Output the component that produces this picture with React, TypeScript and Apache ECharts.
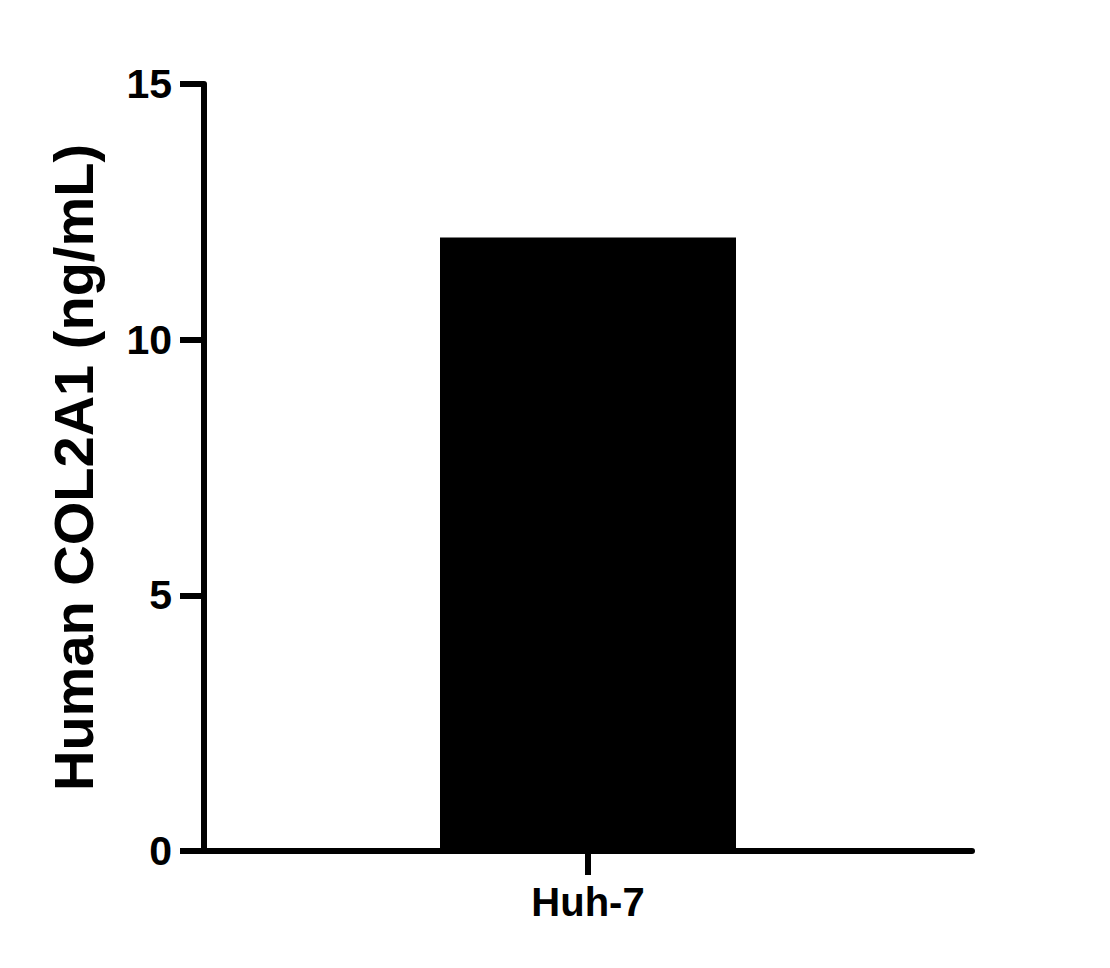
import * as echarts from 'echarts';
import { useEffect, useRef } from 'react';

const categories = ['Huh-7'];
const values = [12];
const yTicks = [0, 5, 10, 15];
const yTitle = 'Human COL2A1 (ng/mL)';

const FONT = 'Liberation Sans, Arial, Helvetica, sans-serif';

// empty slots either side so the single category sits on a point with its own tick
const xData = ['', ...categories, ''];
const barData = [null, ...values, null];

const App = () => {
  const chartRef = useRef<HTMLDivElement>(null);

  useEffect(() => {
    if (!chartRef.current) return;
    const chart = echarts.init(chartRef.current, undefined, { renderer: 'svg' });
    chart.setOption({
      animation: false,
      backgroundColor: '#fff',
      grid: { left: 204, right: 138, top: 84, bottom: 117 },
      xAxis: {
        type: 'category',
        data: xData,
        boundaryGap: false,
        axisLine: { lineStyle: { color: '#000', width: 6 } },
        axisTick: {
          interval: (_i: number, v: string) => v !== '',
          length: 24,
          lineStyle: { color: '#000', width: 6 },
        },
        axisLabel: {
          interval: 0,
          color: '#000',
          fontFamily: FONT,
          fontWeight: 'bold',
          fontSize: 40,
          margin: 31,
        },
      },
      yAxis: {
        type: 'value',
        min: yTicks[0],
        max: yTicks[yTicks.length - 1],
        interval: yTicks[1] - yTicks[0],
        splitLine: { show: false },
        axisLine: { show: true, lineStyle: { color: '#000', width: 6 } },
        axisTick: { show: true, length: 24, lineStyle: { color: '#000', width: 6 } },
        axisLabel: { color: '#000', fontFamily: FONT, fontWeight: 'bold', fontSize: 41, margin: 32 },
        name: yTitle,
        nameLocation: 'middle',
        nameRotate: 90,
        nameGap: 103,
        nameTextStyle: { color: '#000', fontFamily: FONT, fontWeight: 'bold', fontSize: 56 },
      },
      series: [
        {
          type: 'bar',
          data: barData,
          barWidth: 296,
          itemStyle: { color: '#000' },
        },
      ],
    });
    return () => {
      chart.dispose();
    };
  }, []);

  return (
    <div
      ref={chartRef}
      style={{ position: 'fixed', left: 0, top: 0, width: 1110, height: 968 }}
    ></div>
  );
};

export default App;
